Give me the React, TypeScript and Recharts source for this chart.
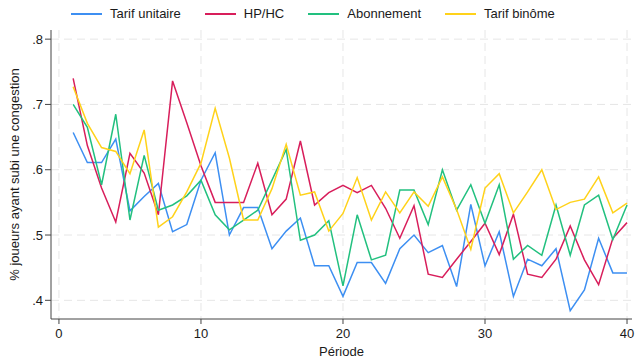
import React from 'react';
import { LineChart, Line, XAxis, YAxis, CartesianGrid, Label } from 'recharts';

const periods = [
  1, 2, 3, 4, 5, 6, 7, 8, 9, 10, 11, 12, 13, 14, 15, 16, 17, 18, 19, 20,
  21, 22, 23, 24, 25, 26, 27, 28, 29, 30, 31, 32, 33, 34, 35, 36, 37, 38, 39, 40,
];

const tarifUnitaire = [
  0.657, 0.611, 0.611, 0.647, 0.537, 0.559, 0.579, 0.505, 0.516, 0.584,
  0.626, 0.5, 0.542, 0.542, 0.479, 0.506, 0.526, 0.453, 0.453, 0.406,
  0.458, 0.458, 0.426, 0.479, 0.5, 0.473, 0.484, 0.421, 0.547, 0.453,
  0.505, 0.406, 0.463, 0.453, 0.479, 0.384, 0.416, 0.495, 0.442, 0.442,
];

const hpHc = [
  0.74, 0.637, 0.572, 0.52, 0.625, 0.595, 0.531, 0.736, 0.672, 0.606,
  0.55, 0.55, 0.55, 0.61, 0.531, 0.555, 0.644, 0.546, 0.565, 0.576,
  0.565, 0.576, 0.541, 0.495, 0.545, 0.44, 0.435, 0.463, 0.49, 0.518,
  0.47, 0.532, 0.44, 0.435, 0.463, 0.514, 0.462, 0.424, 0.495, 0.519,
];

const abonnement = [
  0.7, 0.665, 0.577, 0.685, 0.523, 0.622, 0.538, 0.546, 0.56, 0.584,
  0.531, 0.508, 0.523, 0.538, 0.584, 0.631, 0.492, 0.5, 0.522, 0.422,
  0.531, 0.462, 0.469, 0.569, 0.569, 0.516, 0.6, 0.538, 0.577, 0.518,
  0.577, 0.463, 0.484, 0.469, 0.546, 0.469, 0.546, 0.561, 0.493, 0.546,
];

const tarifBinome = [
  0.727, 0.671, 0.634, 0.628, 0.594, 0.661, 0.512, 0.528, 0.566, 0.61,
  0.694, 0.618, 0.523, 0.523, 0.571, 0.639, 0.561, 0.566, 0.506, 0.533,
  0.588, 0.523, 0.566, 0.534, 0.566, 0.544, 0.589, 0.539, 0.478, 0.572,
  0.594, 0.534, 0.566, 0.6, 0.539, 0.55, 0.555, 0.589, 0.534, 0.549,
];

const xTicks = [0, 10, 20, 30, 40];
const yTicks = [0.4, 0.5, 0.6, 0.7, 0.8];

const series = [
  { key: 'unitaire', name: 'Tarif unitaire', color: '#3d8ff2' },
  { key: 'hphc', name: 'HP/HC', color: '#d81e5b' },
  { key: 'abonnement', name: 'Abonnement', color: '#22c07f' },
  { key: 'binome', name: 'Tarif binôme', color: '#ffd21a' },
];

const data = periods.map((p, i) => ({
  periode: p,
  unitaire: tarifUnitaire[i],
  hphc: hpHc[i],
  abonnement: abonnement[i],
  binome: tarifBinome[i],
}));

const font = '"Liberation Sans", Arial, sans-serif';
const textColor = '#1a1a1a';
const axisColor = '#444';

const fmtY = (v: number) => v.toFixed(1).replace(/^0/, '');

const App: React.FC = () => {
  return (
    <div style={{ position: 'absolute', left: 0, top: 0, width: 635, height: 359, fontFamily: font, background: '#fff' }}>
      <div
        style={{
          position: 'absolute',
          top: 6,
          left: 71,
          display: 'flex',
          alignItems: 'center',
          fontSize: 13,
          color: textColor,
          whiteSpace: 'nowrap',
        }}
      >
        {series.map((s, i) => (
          <div key={s.key} style={{ display: 'flex', alignItems: 'center', marginRight: i < series.length - 1 ? 24 : 0 }}>
            <div style={{ width: 31, height: 2, background: s.color, marginRight: 8 }} />
            <span>{s.name}</span>
          </div>
        ))}
      </div>
      <LineChart width={635} height={359} data={data} margin={{ top: 30, right: 3, left: 0, bottom: 0 }}>
        <CartesianGrid
          stroke="#e6e6e6"
          strokeDasharray="8 5"
          horizontalValues={yTicks}
          verticalValues={xTicks}
        />
        <XAxis
          dataKey="periode"
          type="number"
          domain={[-0.56, 40.35]}
          ticks={xTicks}
          allowDataOverflow
          height={40}
          tick={{ fill: textColor, fontSize: 13, fontFamily: font }}
          tickLine={{ stroke: axisColor }}
          tickSize={5}
          tickMargin={5}
          axisLine={{ stroke: axisColor }}
        >
          <Label value="Période" position="insideBottom" offset={3} style={{ fill: textColor, fontSize: 13, fontFamily: font }} />
        </XAxis>
        <YAxis
          type="number"
          domain={[0.3714, 0.814]}
          ticks={yTicks}
          allowDataOverflow
          width={51}
          tickFormatter={fmtY}
          tick={{ fill: textColor, fontSize: 13, fontFamily: font }}
          tickLine={{ stroke: axisColor }}
          tickSize={6}
          axisLine={{ stroke: axisColor }}
        >
          <Label
            value="% joueurs ayant subi une congestion"
            angle={-90}
            position="insideLeft"
            offset={14}
            style={{ fill: textColor, fontSize: 13, fontFamily: font, textAnchor: 'middle' }}
          />
        </YAxis>
        {series.map((s) => (
          <Line
            key={s.key}
            type="linear"
            dataKey={s.key}
            name={s.name}
            stroke={s.color}
            strokeWidth={1.5}
            dot={false}
            activeDot={false}
            isAnimationActive={false}
          />
        ))}
      </LineChart>
    </div>
  );
};

export default App;
